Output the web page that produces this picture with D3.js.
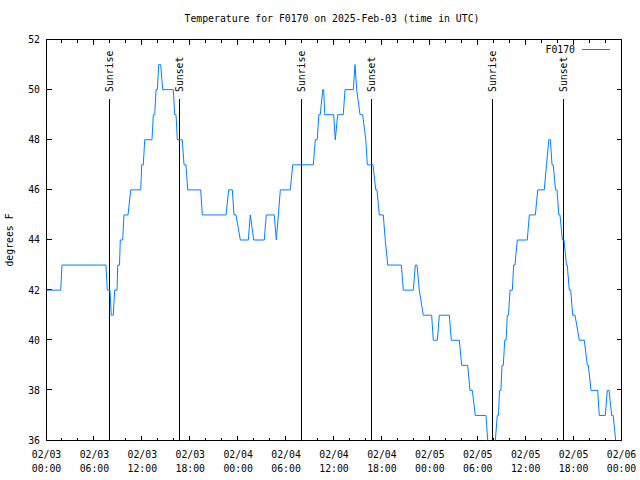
<!DOCTYPE html>
<html><head><meta charset="utf-8">
<script src="https://cdn.jsdelivr.net/npm/d3@7"></script>
<style>
body{margin:0;background:#fff}
text{font-family:"DejaVu Sans Mono","Liberation Mono",monospace;font-size:9.8px;fill:#000}
</style>
</head><body><svg id="c" width="640" height="480"></svg>
<script>
const title = "Temperature for F0170 on 2025-Feb-03 (time in UTC)";
const seriesName = "F0170";
const yLabel = "degrees F";
const dayLabels = ["02/03","02/04","02/05","02/06"];
const xMajorHours = d3.range(0, 73, 6);
const xMinorHours = d3.range(0, 73, 2);
const yTicks = [36,38,40,42,44,46,48,50,52];
const sunrise = [7.86, 31.91, 55.82];
const sunset = [16.63, 40.67, 64.71];
// [hours since 02/03 00:00 UTC, temperature °F]
const readings = [
[0,42],[1.78,42],[1.94,43],[7.45,43],[7.61,42],[7.95,42],[8.11,41],[8.36,41],[8.54,42],[8.83,42],[8.92,43],[9.14,43],[9.24,44],[9.54,44],[9.70,45],[10.21,45],[10.54,46],[11.80,46],[11.92,47],[12.12,47],[12.30,48],[13.21,48],[13.38,49],[13.55,49],[13.72,50],[13.88,50],[14.05,51],[14.30,51],[14.55,50],[15.88,50],[16.05,49],[16.22,49],[16.38,48],[17.00,48],[17.22,47],[17.46,47],[17.68,46],[19.31,46],[19.51,45],[22.48,45],[22.81,46],[23.27,46],[23.48,45],[23.73,45],[24.27,44],[25.27,44],[25.52,45],[25.95,44],[27.27,44],[27.52,45],[28.52,45],[28.78,44],[29.28,46],[30.53,46],[30.83,47],[33.41,47],[33.66,48],[33.90,48],[34.10,49],[34.28,49],[34.59,50],[34.71,50],[34.84,49],[35.96,49],[36.16,48],[36.46,49],[37.16,49],[37.38,50],[38.42,50],[38.63,51],[38.84,50],[39.26,49],[39.59,49],[39.98,48],[40.17,47],[40.88,47],[41.23,46],[41.38,46],[41.67,45],[42.17,45],[42.42,44],[42.73,43],[44.43,43],[44.68,42],[45.93,42],[46.18,43],[46.39,43],[46.68,42],[47.18,41],[48.23,41],[48.43,40],[48.94,40],[49.19,41],[50.44,41],[50.69,40],[51.69,40],[51.99,39],[52.74,39],[53.03,38],[53.32,38],[53.69,37],[55.03,37],[55.25,36],[55.45,35],[56.0,35],[56.2,36],[56.45,37],[56.6,37],[56.72,38],[56.9,38],[57.04,39],[57.2,39],[57.38,40],[57.55,40],[57.70,41],[57.85,41],[58.04,42],[58.33,42],[58.5,43],[58.66,43],[58.95,44],[60.2,44],[60.46,45],[61.21,45],[61.51,46],[62.33,46],[62.61,47],[62.9,48],[63.09,48],[63.3,47],[63.45,47],[63.74,46],[63.92,46],[64.15,45],[64.3,45],[64.59,44],[64.8,44],[65.11,43],[65.21,43],[65.46,42],[65.64,42],[65.89,41],[66.18,41],[66.72,40],[67.34,40],[67.72,39],[67.85,39],[68.18,38],[69.02,38],[69.22,37],[69.97,37],[70.22,38],[70.44,38],[70.77,37],[70.96,37],[71.27,36]
];

const blue = "#0080ff";
const L = 46.5, R = 621.5, T = 39.5, B = 440.5;
const svg = d3.select("#c");
const x = d3.scaleLinear().domain([0,72]).range([L,R]);
const y = d3.scaleLinear().domain([36,52]).range([B,T]);

svg.append("defs").append("clipPath").attr("id","clip")
  .append("rect").attr("x",L).attr("y",T).attr("width",R-L).attr("height",B-T);

// title
svg.append("text").attr("x",332).attr("y",19).attr("dy","0.35em")
  .attr("text-anchor","middle").text(title);
// y label
svg.append("text").attr("transform","translate(10,240) rotate(-90)").attr("dy","0.35em")
  .attr("text-anchor","middle").text(yLabel);

const g = svg.append("g").attr("shape-rendering","crispEdges");
// frame
g.append("rect").attr("x",L).attr("y",T).attr("width",R-L).attr("height",B-T)
  .attr("fill","none").attr("stroke","#000");

// x ticks
xMinorHours.forEach(h=>{
  const major = h % 6 === 0;
  const len = major ? 5 : 3;
  const px = Math.round(x(h)) - 0.5;
  if (h===0 || h===72) return;
  g.append("line").attr("x1",px).attr("x2",px).attr("y1",B).attr("y2",B-len).attr("stroke","#000");
  g.append("line").attr("x1",px).attr("x2",px).attr("y1",T).attr("y2",T+len).attr("stroke","#000");
});
xMajorHours.forEach(h=>{
  const day = dayLabels[Math.floor(h/24)];
  const hh = String(h%24).padStart(2,"0") + ":00";
  svg.append("text").attr("x",x(h)).attr("y",455).attr("dy","0.35em").attr("text-anchor","middle").text(day);
  svg.append("text").attr("x",x(h)).attr("y",469).attr("dy","0.35em").attr("text-anchor","middle").text(hh);
});
// y ticks
yTicks.forEach(v=>{
  const py = Math.round(y(v)) - 0.5;
  if (v!==36 && v!==52){
    g.append("line").attr("x1",L).attr("x2",L+5).attr("y1",py).attr("y2",py).attr("stroke","#000");
    g.append("line").attr("x1",R).attr("x2",R-5).attr("y1",py).attr("y2",py).attr("stroke","#000");
  }
  svg.append("text").attr("x",40).attr("y",y(v)).attr("dy","0.35em").attr("text-anchor","end").text(v);
});

// sun lines
function sunLine(h, label){
  const px = Math.floor(x(h)) + 0.5;
  g.append("line").attr("x1",px).attr("x2",px).attr("y1",99).attr("y2",B).attr("stroke","#000");
  svg.append("text").attr("transform",`translate(${px},92) rotate(-90)`).attr("dy","0.4em")
    .attr("text-anchor","start").text(label);
}
sunrise.forEach(h=>sunLine(h,"Sunrise"));
sunset.forEach(h=>sunLine(h,"Sunset"));

// data line
const line = d3.line().x(d=>x(d[0])).y(d=>y(d[1]));
svg.append("path").datum(readings).attr("clip-path","url(#clip)")
  .attr("d",line).attr("fill","none").attr("stroke",blue).attr("stroke-width",1);

// legend
svg.append("text").attr("x",575).attr("y",49.5).attr("dy","0.35em").attr("text-anchor","end").text(seriesName);
g.append("line").attr("x1",582).attr("x2",610).attr("y1",49.5).attr("y2",49.5).attr("stroke",blue);
</script></body></html>
